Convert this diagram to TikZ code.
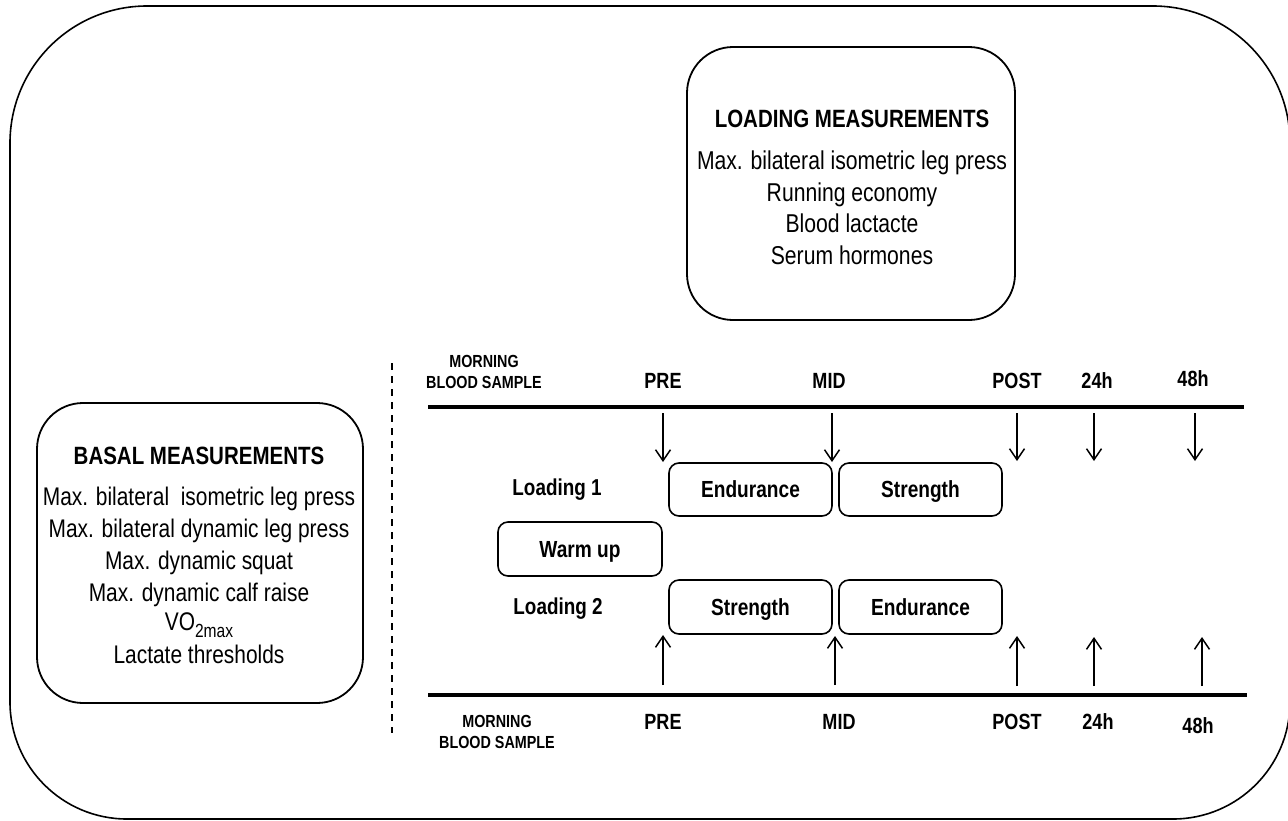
\documentclass[tikz,border=0pt]{standalone}
\usepackage{fontspec}
\setmainfont[FakeStretch=0.82]{Liberation Sans}
\usetikzlibrary{arrows.meta}
\tikzset{
  frame/.style={line width=1.6pt},
  bigbox/.style={draw, line width=1.8pt, rounded corners=46pt, inner sep=0pt},
  body/.style={align=center, inner sep=0pt, font=\fontsize{25.5}{31}\selectfont},
  lbl/.style={inner sep=0pt, text height=15.75pt, text depth=0pt, font=\bfseries\fontsize{22}{22}\selectfont},
  llbl/.style={inner sep=0pt, text height=16.5pt, text depth=0pt, font=\bfseries\fontsize{23}{23}\selectfont},
  small/.style={inner sep=0pt, align=center, font=\bfseries\fontsize{17.5}{20.5}\selectfont},
  act/.style={draw, line width=1.6pt, rounded corners=10pt, inner sep=0pt,
    text height=16.7pt, text depth=0pt, font=\bfseries\fontsize{23.3}{23}\selectfont},
  tline/.style={line width=4.5pt},
  arr/.style={line width=1.5pt, -{Straight Barb[length=11pt,width=15pt,line width=1.5pt]}},
  dashline/.style={line width=1.5pt, dash pattern=on 7pt off 6pt},
}
\newcommand{\ttlfont}{\bfseries\fontsize{25}{31}\selectfont}
\begin{document}
\begin{tikzpicture}[x=1pt, y=-1pt]
\useasboundingbox (0,0) rectangle (1288,820);
% outer frame
\draw[frame] (10,400) [rounded corners=117pt] -- (10,819) -- (1290,819)
  [rounded corners=137pt] -- (1290,6) -- (10,6) -- cycle;

% loading measurements box
\node[bigbox, minimum width=328pt, minimum height=273pt] (loadbox) at (851,183.5) {};
\node[body, font=\fontsize{25.8}{31.5}\selectfont] (loadtxt) at (852,187) {{\ttlfont LOADING MEASUREMENTS}\\[11pt]
Max. bilateral\ isometric leg press\\ Running economy\\ Blood lactacte\\ Serum hormones};

% basal measurements box
\node[bigbox, minimum width=326pt, minimum height=300pt] (basalbox) at (200,553) {};
\node[body, font=\fontsize{25.5}{32}\selectfont] (basaltxt) at (199,555) {{\ttlfont BASAL MEASUREMENTS}\\[9pt]
Max. bilateral\ \ isometric leg press\\ Max. bilateral dynamic leg press\\ Max. dynamic squat\\ Max. dynamic calf raise\\[-3pt]
VO\raisebox{-0.28em}{\fontsize{19}{19}\selectfont 2max}\\[1pt] Lactate thresholds};

% dashed separator
\coordinate (dsA) at (392,363);
\coordinate (dsB) at (392,733);
\draw[dashline] (dsA) -- (dsB);

% top timeline
\coordinate (tA) at (428,407);
\coordinate (tB) at (1244,407);
\draw[tline] (tA) -- (tB);
\node[small] (tmorn) at (484,372) {MORNING\\BLOOD SAMPLE};
\node[lbl] (tpre) at (663,381) {PRE};
\node[lbl] (tmid) at (829,381) {MID};
\node[lbl] (tpost) at (1017,381) {POST};
\node[lbl] (t24) at (1097,381) {24h};
\node[lbl] (t48) at (1193,379) {48h};

% bottom timeline
\coordinate (bA) at (428,695);
\coordinate (bB) at (1247,695);
\draw[tline] (bA) -- (bB);
\node[small] (bmorn) at (497,732) {MORNING\\BLOOD SAMPLE};
\node[lbl] (bpre) at (663,722) {PRE};
\node[lbl] (bmid) at (839,722) {MID};
\node[lbl] (bpost) at (1017,722) {POST};
\node[lbl] (b24) at (1098,722) {24h};
\node[lbl] (b48) at (1198,726) {48h};

% loading labels
\node[llbl] (load1) at (557,487) {Loading 1};
\node[llbl] (load2) at (558,606) {Loading 2};

% activity boxes
\node[act, minimum width=163pt, minimum height=53pt] (end1) at (750.5,489.5) {Endurance};
\node[act, minimum width=163pt, minimum height=53pt] (str1) at (920.5,489.5) {Strength};
\node[act, minimum width=164pt, minimum height=54pt] (warm) at (580,549) {Warm up};
\node[act, minimum width=163pt, minimum height=54pt] (str2) at (750.5,607) {Strength};
\node[act, minimum width=163pt, minimum height=54pt] (end2) at (920.5,607) {Endurance};

% top arrows
\coordinate (da1) at (663,413); \coordinate (db1) at (663,462);
\coordinate (da2) at (832,413); \coordinate (db2) at (832,462);
\coordinate (da3) at (1017,413); \coordinate (db3) at (1017,461);
\coordinate (da4) at (1094,413); \coordinate (db4) at (1094,461);
\coordinate (da5) at (1195,413); \coordinate (db5) at (1195,461);
\draw[arr] (da1) -- (db1);
\draw[arr] (da2) -- (db2);
\draw[arr] (da3) -- (db3);
\draw[arr] (da4) -- (db4);
\draw[arr] (da5) -- (db5);

% bottom arrows
\coordinate (ua1) at (663,685); \coordinate (ub1) at (663,635);
\coordinate (ua2) at (835,685); \coordinate (ub2) at (835,636);
\coordinate (ua3) at (1017,686); \coordinate (ub3) at (1017,636);
\coordinate (ua4) at (1094,686); \coordinate (ub4) at (1094,637);
\coordinate (ua5) at (1202,686); \coordinate (ub5) at (1202,637);
\draw[arr] (ua1) -- (ub1);
\draw[arr] (ua2) -- (ub2);
\draw[arr] (ua3) -- (ub3);
\draw[arr] (ua4) -- (ub4);
\draw[arr] (ua5) -- (ub5);
\end{tikzpicture}
\end{document}
